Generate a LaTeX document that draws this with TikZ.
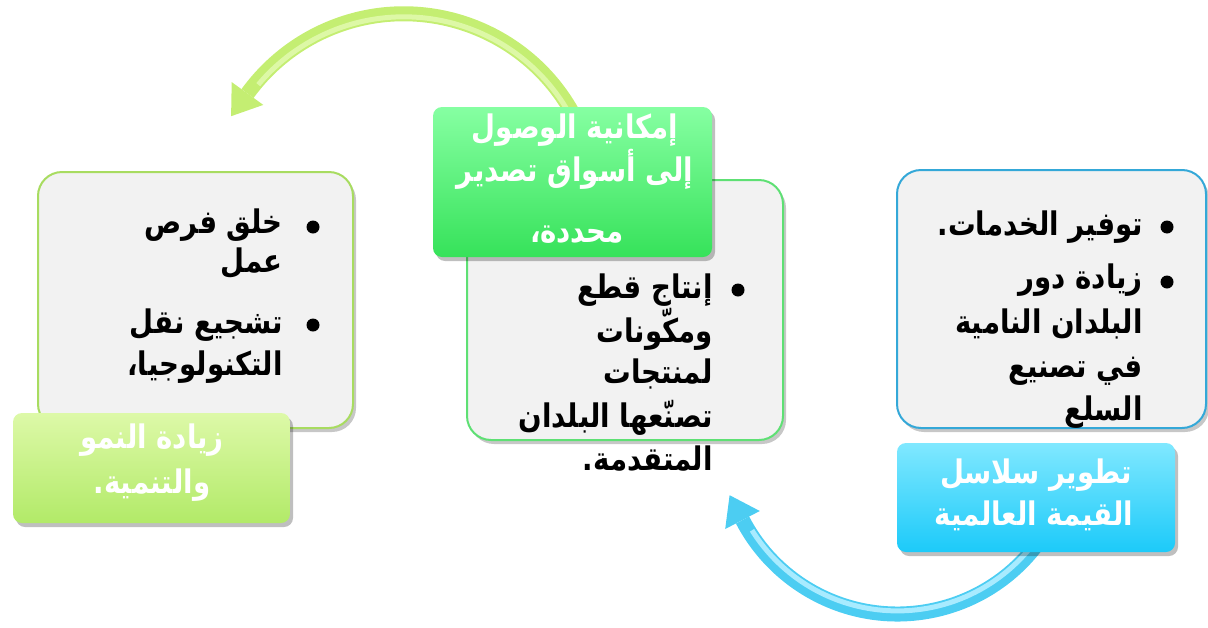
\documentclass[tikz,border=0pt]{standalone}
\usepackage{fontspec}
\newfontfamily\arabicfont[Script=Arabic,FakeStretch=0.85]{DejaVu Sans}
\TeXXeTstate=1
\usetikzlibrary{shadows}
\definecolor{panelfill}{HTML}{F2F2F2}
\definecolor{lgborder}{HTML}{A8DC60}
\definecolor{mgborder}{HTML}{5EE074}
\definecolor{rbborder}{HTML}{34A8D8}
\definecolor{lltop}{HTML}{DDF9A8}
\definecolor{llbot}{HTML}{B2EA68}
\definecolor{mltop}{HTML}{86FFA2}
\definecolor{mlbot}{HTML}{36E25A}
\definecolor{rltop}{HTML}{80E8FF}
\definecolor{rlbot}{HTML}{1CCAF9}
\definecolor{garrow}{HTML}{C4EE72}
\definecolor{garrowhi}{HTML}{DDF8A6}
\definecolor{barrow}{HTML}{4CCDF2}
\definecolor{barrowhi}{HTML}{A8EBFF}
\begin{document}
\begin{tikzpicture}[x=1pt,y=-1pt,
  panel/.style={draw, line width=2pt, rounded corners=24pt, fill=panelfill,
    anchor=north west, inner sep=0pt, outer sep=0pt,
    drop shadow={shadow xshift=3pt, shadow yshift=-4pt, opacity=0.22, fill=black}},
  tag/.style={rounded corners=9pt, anchor=north west, inner sep=0pt, outer sep=0pt,
    drop shadow={shadow xshift=3pt, shadow yshift=-4pt, opacity=0.25, fill=black}},
  artxt/.style={font=\arabicfont\bfseries\fontsize{32.5}{36}\selectfont, inner sep=0pt, anchor=base east},
  tagtxt/.style={artxt, text=white, anchor=base},
  dot/.style={circle, fill=black, inner sep=0pt, minimum size=13pt},
]
\useasboundingbox (0,0) rectangle (1208,627);

% ---- green arrow ----
\coordinate (gc) at (403.8,206.8);
\coordinate (gtip) at (231.1,116.2);
\coordinate (gw1) at (231.7,82.1);
\coordinate (gw2) at (263.3,104.9);
\draw[garrow, line width=15pt] (gc) ++(-25:193) arc[start angle=-25, end angle=-144.06, radius=193];
\draw[garrowhi, line width=5pt] (gc) ++(-25:190) arc[start angle=-25, end angle=-140, radius=190];
\fill[garrow] (gtip) -- (gw1) -- (gw2) -- cycle;

% ---- blue arrow ----
\coordinate (bc) at (897.4,439.4);
\coordinate (btip) at (729.6,495.2);
\coordinate (bw1) at (725.2,529.0);
\coordinate (bw2) at (759.8,511.0);
\draw[barrow, line width=15pt] (bc) ++(33:174.6) arc[start angle=33, end angle=152.5, radius=174.6];
\draw[barrowhi, line width=5pt] (bc) ++(33:171.5) arc[start angle=33, end angle=148, radius=171.5];
\fill[barrow] (btip) -- (bw1) -- (bw2) -- cycle;

% ---- panels ----
\node[panel, draw=lgborder, minimum width=315pt, minimum height=256pt] (lbox) at (38,172) {};
\node[panel, draw=mgborder, minimum width=316pt, minimum height=260pt] (mbox) at (467,180) {};
\node[panel, draw=rbborder, minimum width=309pt, minimum height=258pt] (rbox) at (897,170) {};

% ---- tags ----
\node[tag, top color=lltop, bottom color=llbot, minimum width=277pt, minimum height=110pt] (ltag) at (13,413) {};
\node[tag, top color=mltop, bottom color=mlbot, minimum width=279pt, minimum height=150pt] (mtag) at (433,107) {};
\node[tag, top color=rltop, bottom color=rlbot, minimum width=278pt, minimum height=109pt] (rtag) at (897,443) {};

% ---- left panel text ----
\node[dot] (ld1) at (313,227) {};
\node[artxt] (l1) at (283,233) {\beginR خلق فرص\endR};
\node[artxt] (l2) at (283,272) {\beginR عمل\endR};
\node[dot] (ld2) at (313,325) {};
\node[artxt] (l3) at (283,333) {\beginR تشجيع نقل\endR};
\node[artxt] (l4) at (283,375) {\beginR التكنولوجيا،\endR};

% ---- middle panel text ----
\node[dot] (md1) at (738,290) {};
\node[artxt] (m1) at (713,298) {\beginR إنتاج قطع\endR};
\node[artxt] (m2) at (713,342) {\beginR ومكّونات\endR};
\node[artxt] (m3) at (713,383) {\beginR لمنتجات\endR};
\node[artxt] (m4) at (713,427) {\beginR تصنّعها البلدان\endR};
\node[artxt] (m5) at (713,470) {\beginR المتقدمة.\endR};

% ---- right panel text ----
\node[dot] (rd1) at (1167,227) {};
\node[artxt] (r1) at (1143,235) {\beginR توفير الخدمات.\endR};
\node[dot] (rd2) at (1167,282) {};
\node[artxt] (r2) at (1143,288) {\beginR زيادة دور\endR};
\node[artxt] (r3) at (1143,333) {\beginR البلدان النامية\endR};
\node[artxt] (r4) at (1143,377) {\beginR في تصنيع\endR};
\node[artxt] (r5) at (1143,420) {\beginR السلع\endR};

% ---- tag texts ----
\node[tagtxt] (lt1) at (152,448) {\beginR زيادة النمو\endR};
\node[tagtxt] (lt2) at (152,493) {\beginR والتنمية.\endR};
\node[tagtxt] (mt1) at (575,138) {\beginR إمكانية الوصول\endR};
\node[tagtxt] (mt2) at (575,181) {\beginR إلى أسواق تصدير\endR};
\node[tagtxt] (mt3) at (577,242) {\beginR محددة،\endR};
\node[tagtxt] (rt1) at (1036,483) {\beginR تطوير سلاسل\endR};
\node[tagtxt] (rt2) at (1034,525) {\beginR القيمة العالمية\endR};
\end{tikzpicture}
\end{document}
